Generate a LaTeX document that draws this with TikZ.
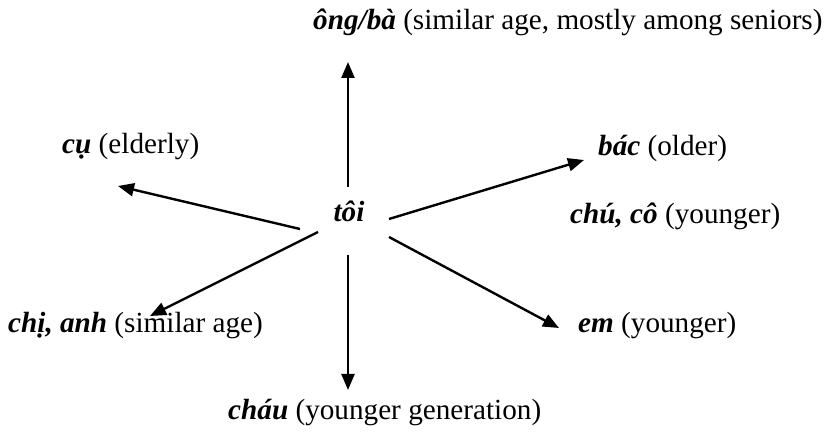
\documentclass[tikz,border=0pt]{standalone}
\usepackage{fontspec}
\setmainfont{Liberation Serif}
\usetikzlibrary{arrows.meta}
\begin{document}
\begin{tikzpicture}[x=1pt,y=-1pt,
  lbl/.style={anchor=base west,inner sep=0pt,font=\fontsize{29.2}{33}\selectfont},
  ptr/.style={line width=2.4pt,-{Triangle[length=16pt,width=13pt]}}]
\useasboundingbox (0,0) rectangle (831,443);
\newcommand{\vt}[1]{\textbf{\textit{#1}}}

% centre term
\node[anchor=center,inner sep=0pt,font=\fontsize{29.2}{33}\selectfont] (me) at (349,211) {\vt{tôi}};

% address terms around it
\node[lbl] (ongba) at (313,30) {\vt{ông/bà} (similar age, mostly among seniors)};
\node[lbl] (cu)    at (62,154) {\vt{cụ} (elderly)};
\node[lbl] (bac)   at (598,156) {\vt{bác} (older)};
\node[lbl] (chuco) at (570,224) {\vt{chú, cô} (younger)};
\node[lbl] (chi)   at (8,333) {\vt{chị, anh} (similar age)};
\node[lbl] (em)    at (578,333) {\vt{em} (younger)};
\node[lbl] (chau)  at (228,420) {\vt{cháu} (younger generation)};

% arrow start and end points
\coordinate (sU)  at (348,187); \coordinate (eU)  at (348,62);
\coordinate (sD)  at (348,255); \coordinate (eD)  at (348,390);
\coordinate (sL)  at (300,229); \coordinate (eL)  at (118,186);
\coordinate (sUR) at (389,219); \coordinate (eUR) at (584,160);
\coordinate (sDL) at (318,232); \coordinate (eDL) at (150,316);
\coordinate (sDR) at (389,237); \coordinate (eDR) at (559,328);

\draw[ptr] (sU)  -- (eU);
\draw[ptr] (sD)  -- (eD);
\draw[ptr] (sL)  -- (eL);
\draw[ptr] (sUR) -- (eUR);
\draw[ptr] (sDL) -- (eDL);
\draw[ptr] (sDR) -- (eDR);
\end{tikzpicture}
\end{document}
